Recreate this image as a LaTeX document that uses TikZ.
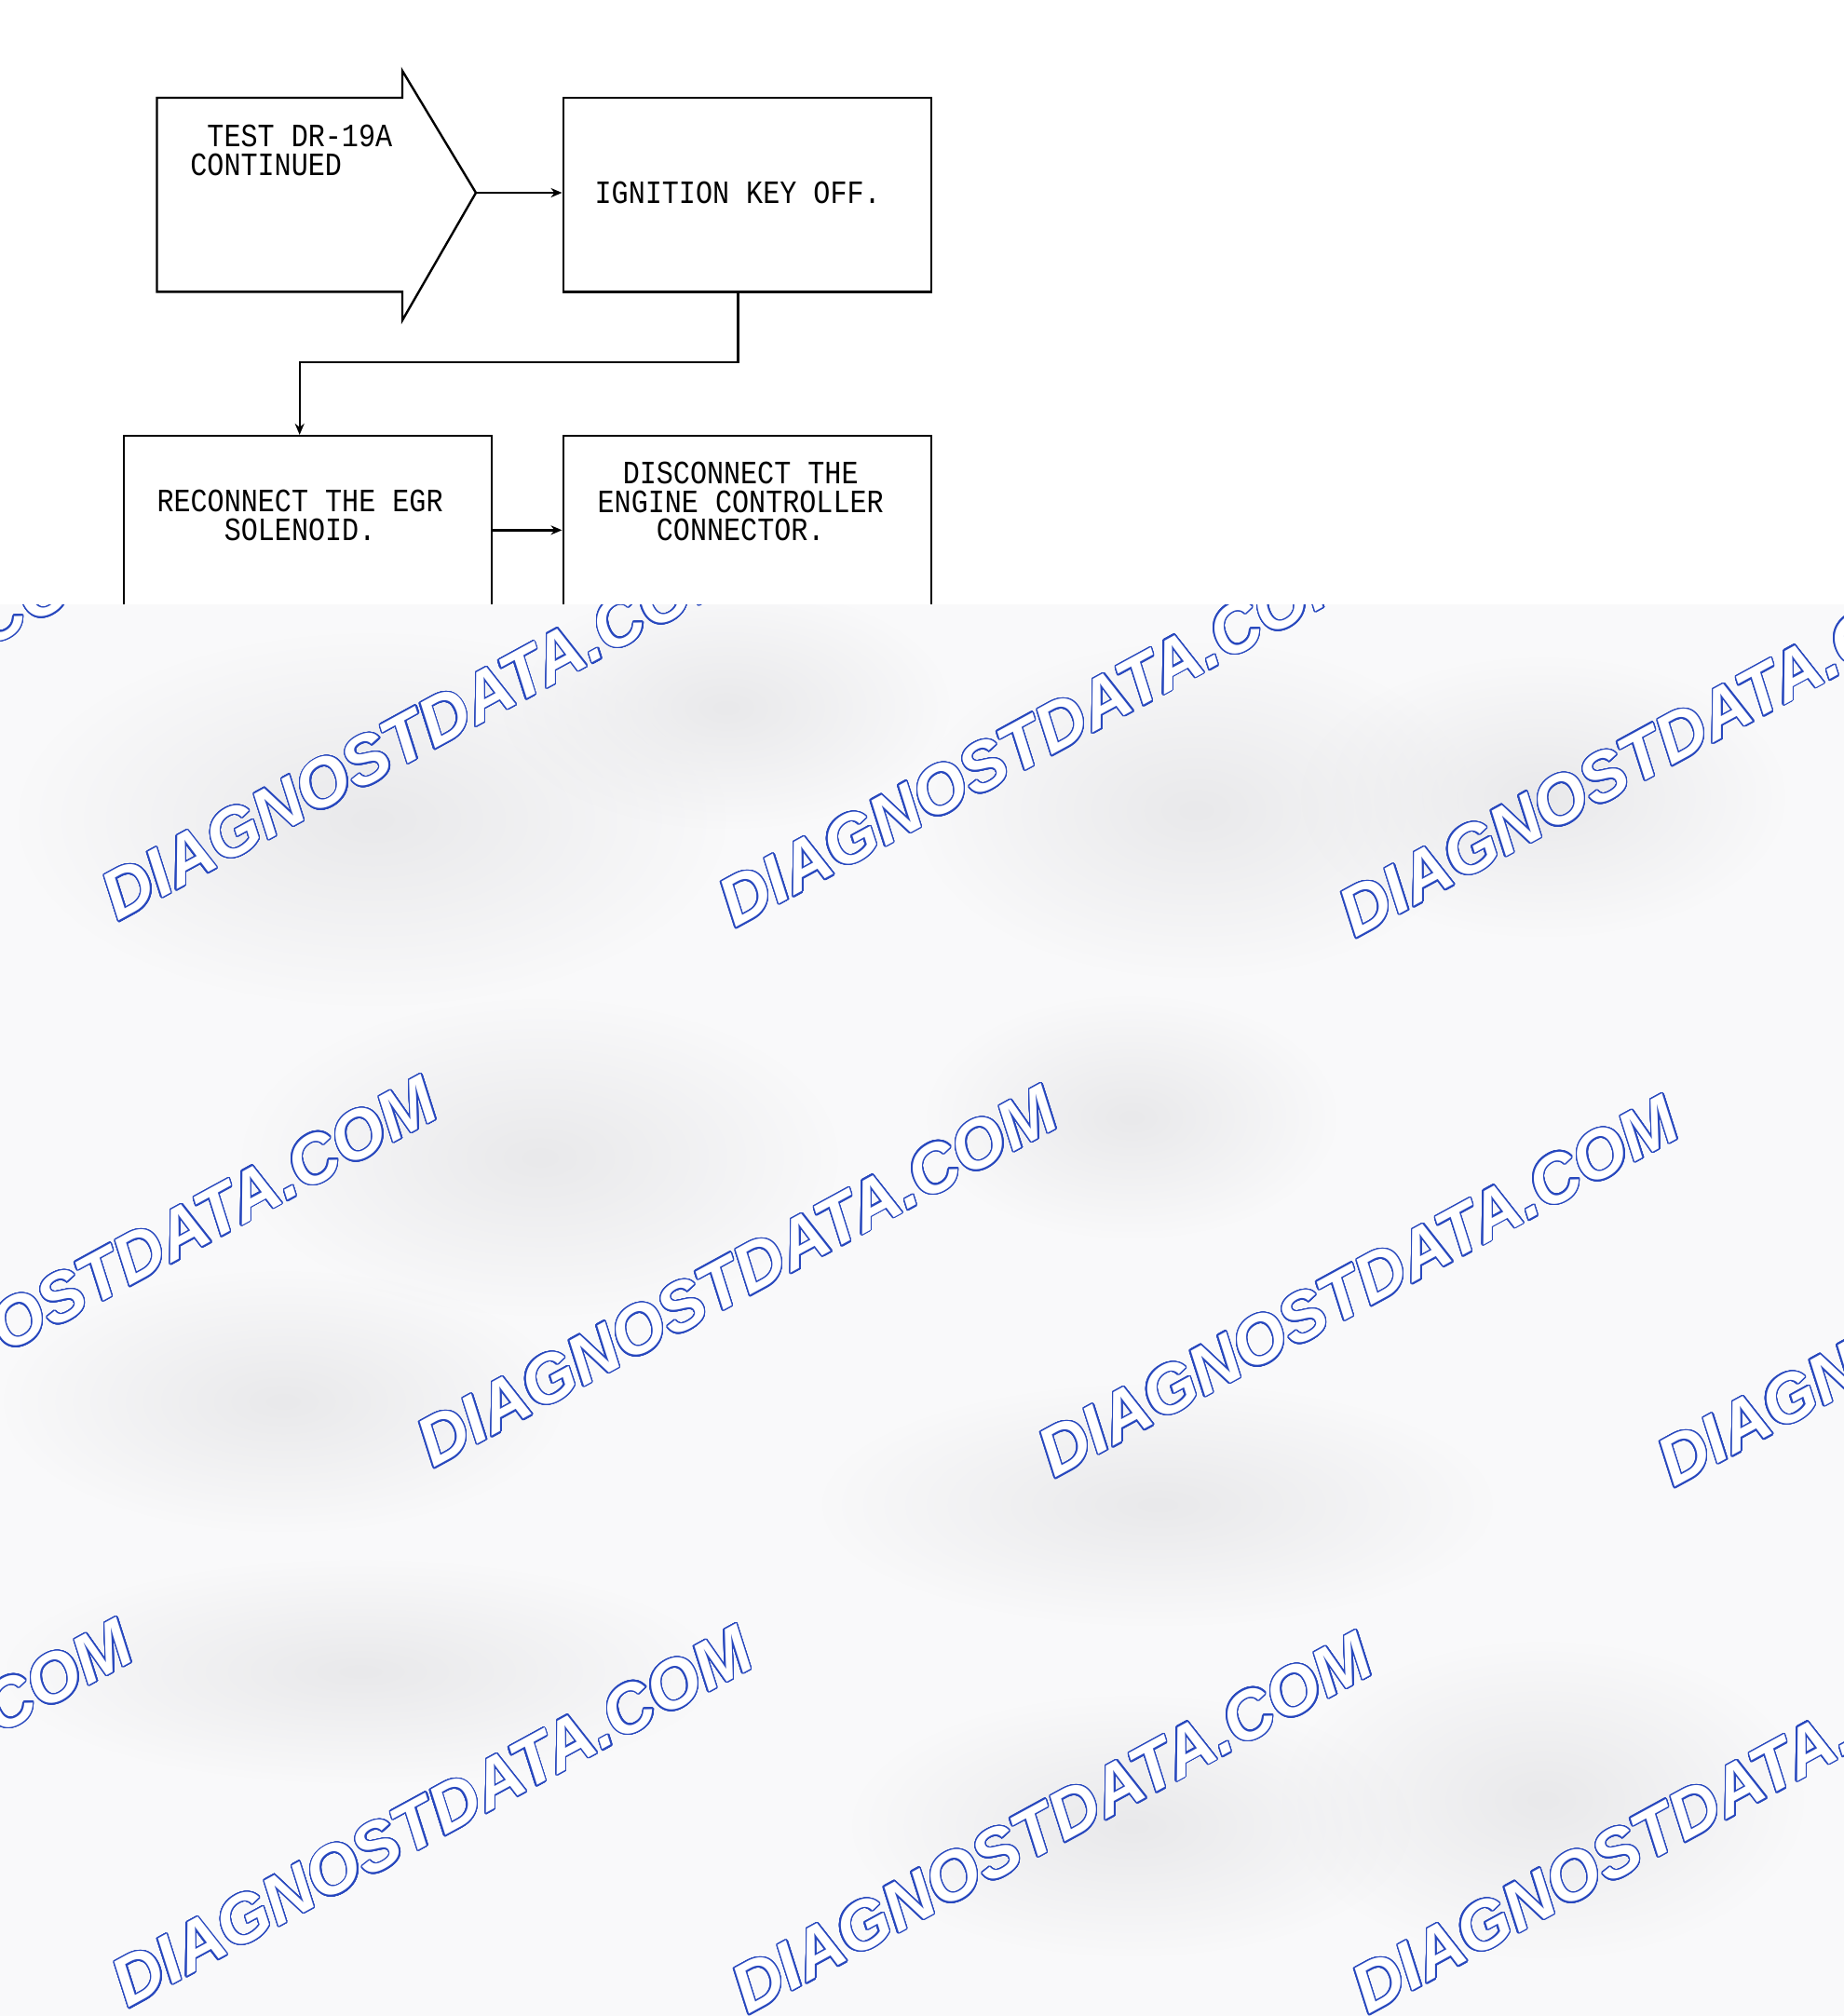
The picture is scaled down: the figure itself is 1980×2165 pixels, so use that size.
\documentclass[tikz,border=0pt]{standalone}
\usepackage{fontspec}
\usepackage[copies]{contour}
\usetikzlibrary{arrows.meta}
\usetikzlibrary{fadings}
\newfontfamily\flowfont[FakeStretch=0.86]{Liberation Mono}
\newfontfamily\markfont{Liberation Sans}
\definecolor{markblue}{RGB}{40,72,190}
\definecolor{haze}{RGB}{249,249,250}
\definecolor{smudge}{RGB}{233,233,235}
\contourlength{0.7pt}
\contournumber{32}
\tikzfading[name=smudgefade, inner color=transparent!0, outer color=transparent!100]
\tikzset{box/.style={draw=black,line width=1.2pt,minimum width=197.5pt,minimum height=104.2pt,inner sep=0pt}}
\tikzset{txt/.style={font=\flowfont\fontsize{17.5pt}{15.25pt}\selectfont,align=center,inner sep=0pt}}
\tikzset{flow/.style={line width=1.2pt,-{Stealth[length=6pt,width=5pt]}}}
\tikzset{wmark/.style={font=\markfont\bfseries\itshape\fontsize{36.6pt}{40pt}\selectfont,text=white,rotate=28.6,anchor=base west,inner sep=0pt}}

\begin{document}
\begin{tikzpicture}[x=0.5pt,y=-0.5pt]
\useasboundingbox (0,0) rectangle (1980,2165);
\fill[white] (0,0) rectangle (1980,2165);

% continuation arrow
\draw[line width=1.2pt,line join=miter] (168.5,105) -- (432,105) -- (432,76) -- (511,207)
   -- (432,344) -- (432,313.4) -- (168.5,313.4) -- cycle;
\coordinate (tip) at (511,207);
\node[txt,align=left,anchor=west] (testtxt) at (204,161.5) {~TEST DR-19A\\CONTINUED};

% steps
\node[box] (key) at (802.2,209.2) {};
\node[txt] (keytxt) at ([xshift=-5pt,yshift=1pt]key.center) {IGNITION KEY OFF.};
\node[box] (egr) at (330.7,572.3) {};
\node[txt] (egrtxt) at ([xshift=-4.3pt,yshift=9.3pt]egr.center) {RECONNECT THE EGR\\SOLENOID.};
\node[box] (ecu) at (802.2,572.3) {};
\node[txt] (ecutxt) at ([xshift=-3.5pt,yshift=16.9pt]ecu.center) {DISCONNECT THE\\ENGINE CONTROLLER\\CONNECTOR.};

\draw[flow] (tip) -- (tip -| key.west);
\draw[flow] ([xshift=-4.8pt]key.south) -- ++(0,74.6) -| ([xshift=-4.5pt]egr.north);
\draw[flow] ([yshift=1.5pt]egr.east) -- ([yshift=1.5pt]egr.east -| ecu.west);

% watermark layer
\fill[haze] (0,649) rectangle (1980,2165);
\begin{scope}
\clip (0,649) rectangle (1980,2165);
\foreach \x/\y/\a/\b in {400/880/380/200, 780/760/240/130, 1284/870/300/180, 1657/856/260/150,
   580/1243/320/170, 1215/1200/220/130, 304/1505/300/140, 1243/1616/360/130,
   387/1795/380/120, 1657/1933/280/170, 1215/1961/300/140}
  \fill[smudge,path fading=smudgefade] (\x,\y) ellipse ({\a} and {\b});
\foreach \x/\y [count=\k] in {-539/983, 126.5/990, 789/997, 1455/1008,
   -201/1567, 465/1577, 1132/1588, 1797/1598,
   -528/2150, 137.5/2157, 803/2164, 1469/2164}
  \node[wmark] (wm\k) at (\x,\y) {\contour{markblue}{DIAGNOSTDATA.COM}};
\end{scope}
\end{tikzpicture}
\end{document}
